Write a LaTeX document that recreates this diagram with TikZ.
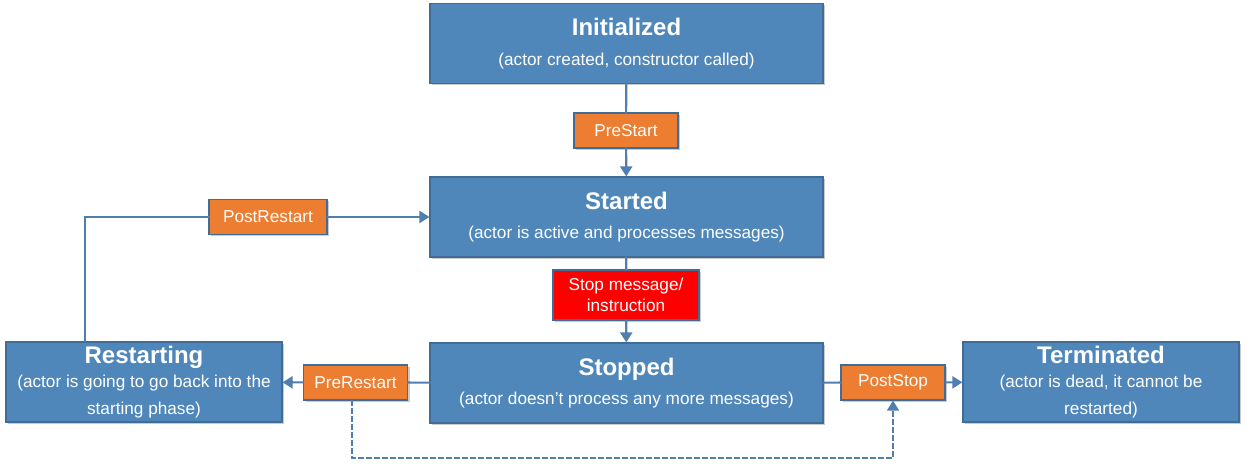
\documentclass[tikz,border=0pt]{standalone}
\usepackage{fontspec}
\setmainfont{Liberation Sans}
\usetikzlibrary{arrows.meta,shadows}
\definecolor{stateblue}{RGB}{79,135,187}
\definecolor{stateedge}{RGB}{65,108,150}
\definecolor{hookorange}{RGB}{237,125,49}
\definecolor{linkblue}{RGB}{80,126,174}
\newcommand{\sttitle}[1]{{\fontsize{12}{13}\selectfont\bfseries #1}}

\begin{document}
\begin{tikzpicture}[line cap=rect,line join=miter,x=0.5pt,y=-0.5pt,
	state/.style={draw=stateedge,line width=0.6pt,fill=stateblue,text=white,align=center,inner sep=0pt,
		font=\fontsize{8.6}{13.2}\selectfont,drop shadow={shadow xshift=1pt,shadow yshift=-1pt,fill=gray!70,opacity=0.6}},
	hook/.style={draw=stateedge,line width=0.6pt,fill=hookorange,text=white,align=center,inner sep=0pt,
		minimum width=52pt,minimum height=17.5pt,font=\fontsize{8.6}{10.5}\selectfont,
		drop shadow={shadow xshift=1pt,shadow yshift=-1pt,fill=gray!70,opacity=0.6}},
	link/.style={draw=linkblue,line width=1.1pt},
	tip/.style={-{Triangle[length=5pt,width=6pt]}}]
	\useasboundingbox (0,0) rectangle (1247,475);
	\node [state,minimum width=196.5pt,minimum height=40pt] (init) at (626.5,43.5) {\sttitle{Initialized}\\[1.5pt](actor created, constructor called)};
	\node [state,minimum width=196.5pt,minimum height=40pt] (started) at (626.5,217) {\sttitle{Started}\\[1.5pt](actor is active and processes messages)};
	\node [state,minimum width=196.5pt,minimum height=40pt] (stopped) at (626.5,383) {\sttitle{Stopped}\\[1.5pt](actor doesn't process any more messages)};
	\node [state,minimum width=138pt,minimum height=40pt] (restarting) at (144,382) {\sttitle{Restarting}\\[-1pt](actor is going to go back into the\\starting phase)};
	\node [state,minimum width=138pt,minimum height=40pt] (terminated) at (1101,382) {\sttitle{Terminated}\\[-1pt](actor is dead, it cannot be\\restarted)};
	\node [hook] (prestart) at (626,130.5) {PreStart};
	\node [hook,minimum width=59pt] (postrestart) at (268,217) {PostRestart};
	\node [hook,fill=red,minimum width=73pt,minimum height=25pt] (stopmsg) at (626,295) {Stop message/\\instruction};
	\node [hook] (prerestart) at (355.5,382.5) {PreRestart};
	\node [hook] (poststop) at (893,382.5) {PostStop};
	\coordinate (bend) at (85,217);
	\coordinate (loop) at (352,458);
	\draw [link] (init) -- (prestart);
	\draw [link,tip] (prestart) -- (started);
	\draw [link] (started) -- (stopmsg);
	\draw [link,tip] (stopmsg) -- (stopped);
	\draw [link] (stopped) -- (prerestart);
	\draw [link,tip] (prerestart) -- (restarting);
	\draw [link] (stopped) -- (poststop);
	\draw [link,tip] (poststop) -- (terminated);
	\draw [link] (restarting.north -| bend) -- (bend) -- (postrestart);
	\draw [link,tip] (postrestart) -- (started);
	\draw [link,line width=0.7pt,dash pattern=on 2.5pt off 1.5pt,tip] (prerestart.south -| loop) -- (loop) -| (poststop.south);
\end{tikzpicture}
\end{document}
